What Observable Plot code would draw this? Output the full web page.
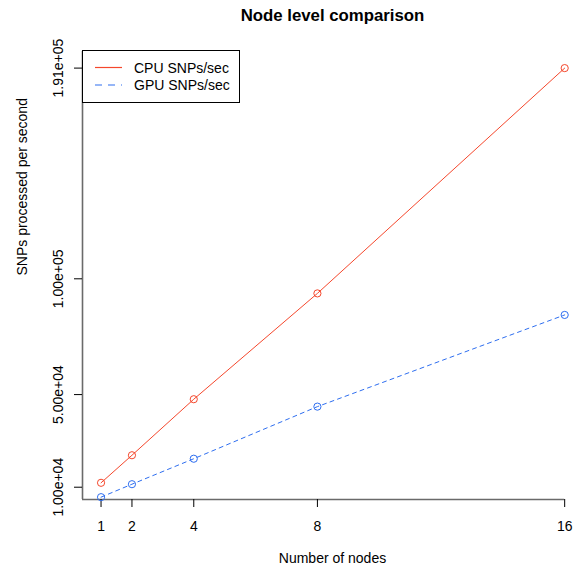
<!DOCTYPE html>
<html>
<head>
<meta charset="utf-8">
<script src="https://cdn.jsdelivr.net/npm/d3@7"></script>
<script src="https://cdn.jsdelivr.net/npm/@observablehq/plot@0.6"></script>
<style>
  html, body { margin: 0; padding: 0; background: #fff; }
  #wrap { position: relative; width: 575px; height: 570px; }
  #legend { position: absolute; left: 82px; top: 50px; }
</style>
</head>
<body>
<div id="wrap"></div>
<script>
const nodes = [1, 2, 4, 8, 16];
const cpuSnps = [11900, 23800, 48000, 93700, 191000];
const gpuSnps = [5700, 11300, 22300, 44800, 84400];
const xTicks = [1, 2, 4, 8, 16];
const yTicks = [10000, 50000, 100000, 191000];
const yTickLabels = ["1.00e+04", "5.00e+04", "1.00e+05", "1.91e+05"];
const seriesNames = ["CPU SNPs/sec", "GPU SNPs/sec"];
const seriesColors = ["#f5472c", "#2e6ef0"];

const cpu = nodes.map((n, i) => ({nodes: n, snps: cpuSnps[i]}));
const gpu = nodes.map((n, i) => ({nodes: n, snps: gpuSnps[i]}));

const xDomain = [0.4, 16.35];
const yDomain = [4690, 198170];
const font = "'Liberation Sans', Arial, Helvetica, sans-serif";

const chart = Plot.plot({
  width: 575,
  height: 570,
  marginLeft: 82,
  marginRight: 0,
  marginTop: 51,
  marginBottom: 71,
  style: {fontFamily: font, fontSize: "14px", background: "white", color: "black"},
  x: {domain: xDomain},
  y: {domain: yDomain},
  marks: [
    Plot.ruleX([xDomain[0]], {stroke: "#6a6a6a", strokeWidth: 1.6}),
    Plot.ruleY([yDomain[0]], {x1: xDomain[0], x2: xTicks[xTicks.length - 1], stroke: "#6a6a6a", strokeWidth: 1.6}),
    Plot.axisX(xTicks, {tickSize: 8, tickPadding: 14, label: null, tickFormat: d => String(d), stroke: "black", fontSize: 14}),
    Plot.axisY(yTicks, {tickSize: 8, label: null, tickFormat: () => "", stroke: "black"}),
    Plot.text(yTicks, {y: d => d, text: (d, i) => yTickLabels[i], frameAnchor: "left", dx: -24, rotate: -90, textAnchor: "middle", lineAnchor: "middle", fontSize: 14}),
    Plot.line(cpu, {x: "nodes", y: "snps", stroke: seriesColors[0], strokeWidth: 1}),
    Plot.line(gpu, {x: "nodes", y: "snps", stroke: seriesColors[1], strokeWidth: 1, strokeDasharray: "4,4"}),
    Plot.dot(cpu, {x: "nodes", y: "snps", r: 3.6, stroke: seriesColors[0], strokeWidth: 1, fill: "none"}),
    Plot.dot(gpu, {x: "nodes", y: "snps", r: 3.6, stroke: seriesColors[1], strokeWidth: 1, fill: "none"}),
    Plot.text(["Node level comparison"], {frameAnchor: "top", dy: -35.4, dx: 3.5, lineAnchor: "middle", fontWeight: "bold", fontSize: 16.8}),
    Plot.text(["Number of nodes"], {frameAnchor: "bottom", dy: 59.5, dx: 3.5, lineAnchor: "middle", fontSize: 14}),
    Plot.text(["SNPs processed per second"], {frameAnchor: "left", dx: -60, rotate: -90, lineAnchor: "middle", fontSize: 14})
  ]
});

const wrap = document.getElementById("wrap");
wrap.appendChild(chart);

// legend overlay
const ns = "http://www.w3.org/2000/svg";
const lg = document.createElementNS(ns, "svg");
lg.setAttribute("id", "legend");
lg.setAttribute("width", "159");
lg.setAttribute("height", "54");
lg.style.fontFamily = font;
lg.style.fontSize = "14px";
const rect = document.createElementNS(ns, "rect");
rect.setAttribute("x", "0.5"); rect.setAttribute("y", "0.5");
rect.setAttribute("width", "157"); rect.setAttribute("height", "52");
rect.setAttribute("fill", "white"); rect.setAttribute("stroke", "black");
lg.appendChild(rect);
seriesNames.forEach((name, i) => {
  const yy = 17.5 + i * 17.5;
  const ln = document.createElementNS(ns, "line");
  ln.setAttribute("x1", "13"); ln.setAttribute("x2", "40");
  ln.setAttribute("y1", yy); ln.setAttribute("y2", yy);
  ln.setAttribute("stroke", seriesColors[i]);
  ln.setAttribute("stroke-width", "1.2");
  if (i === 1) ln.setAttribute("stroke-dasharray", "7,6");
  lg.appendChild(ln);
  const tx = document.createElementNS(ns, "text");
  tx.setAttribute("x", "52"); tx.setAttribute("y", yy + 5);
  tx.setAttribute("fill", "black");
  tx.textContent = name;
  lg.appendChild(tx);
});
wrap.appendChild(lg);
</script>
</body>
</html>
